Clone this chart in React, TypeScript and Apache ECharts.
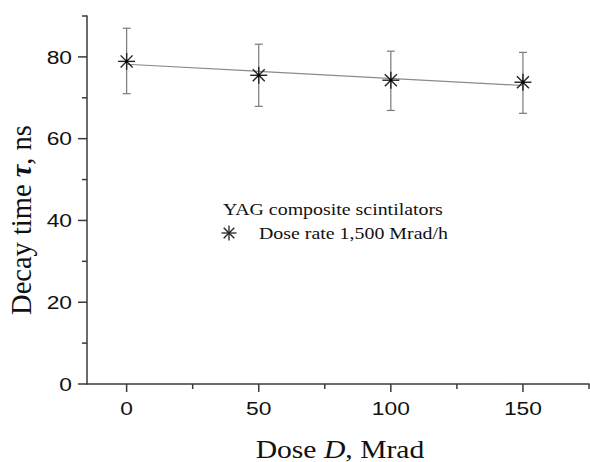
import React, { useEffect, useRef } from "react";
import * as echarts from "echarts";

const doses = [0, 50, 100, 150];
const tau = [78.9, 75.5, 74.3, 73.8];
const errLow = [71.0, 67.9, 66.9, 66.2];
const errHigh = [87.0, 83.1, 81.4, 81.1];
const fitX = [0, 150];
const fitY = [78.2, 73.0];
const xTicks = [0, 50, 100, 150];
const xMinorTicks = [25, 75, 125, 175];
const yTicks = [0, 20, 40, 60, 80];
const yMinorTicks = [10, 30, 50, 70, 90];

const SERIF = "'Liberation Serif', 'Times New Roman', serif";
const SANS = "'Liberation Sans', Arial, sans-serif";

function starShape(cx: number, cy: number, r: number, color: string, width: number) {
  const children: any[] = [];
  const d = r * Math.SQRT1_2;
  const segs = [
    [cx - r, cy, cx + r, cy],
    [cx, cy - r, cx, cy + r],
    [cx - d, cy - d, cx + d, cy + d],
    [cx - d, cy + d, cx + d, cy - d],
  ];
  for (const s of segs) {
    children.push({
      type: "line",
      shape: { x1: s[0], y1: s[1], x2: s[2], y2: s[3] },
      style: { stroke: color, lineWidth: width },
    });
  }
  return children;
}

export default function App() {
  const ref = useRef<HTMLDivElement>(null);
  useEffect(() => {
    if (!ref.current) return;
    const chart = echarts.init(ref.current, undefined, { renderer: "svg" });
    const axisColor = "#3a3a3a";
    const pointData = doses.map((d, i) => [d, tau[i], errLow[i], errHigh[i]]);
    chart.setOption({
      animation: false,
      backgroundColor: "#ffffff",
      grid: { left: 87, right: 1, top: 16, bottom: 78, containLabel: false },
      xAxis: {
        type: "value",
        min: -15,
        max: 175,
        axisLine: { onZero: false, lineStyle: { color: axisColor, width: 1.5 } },
        axisTick: { show: false },
        splitLine: { show: false },
        axisLabel: { show: false },
      },
      yAxis: {
        type: "value",
        min: 0,
        max: 90,
        axisLine: { show: true, onZero: false, lineStyle: { color: axisColor, width: 1.5 } },
        axisTick: { show: false },
        splitLine: { show: false },
        axisLabel: { show: false },
      },
      series: [
        {
          type: "line",
          data: fitX.map((x, i) => [x, fitY[i]]),
          symbol: "none",
          lineStyle: { color: "#8a8a8a", width: 1.2 },
          z: 2,
          silent: true,
        },
        {
          type: "custom",
          data: pointData,
          z: 3,
          renderItem: (params: any, api: any) => {
            const x = api.value(0);
            const c = api.coord([x, api.value(1)]);
            const lo = api.coord([x, api.value(2)]);
            const hi = api.coord([x, api.value(3)]);
            const cap = 4;
            const eb = { stroke: "#7a7a7a", lineWidth: 1.2 };
            return {
              type: "group",
              children: [
                { type: "line", shape: { x1: c[0], y1: hi[1], x2: c[0], y2: lo[1] }, style: eb },
                { type: "line", shape: { x1: c[0] - cap, y1: hi[1], x2: c[0] + cap, y2: hi[1] }, style: eb },
                { type: "line", shape: { x1: c[0] - cap, y1: lo[1], x2: c[0] + cap, y2: lo[1] }, style: eb },
                ...starShape(c[0], c[1], 8.5, "#222", 1.4),
                { type: "circle", shape: { cx: c[0], cy: c[1], r: 1.6 }, style: { fill: "#000" } },
              ],
            };
          },
        },
        {
          type: "custom",
          data: xTicks.map((t) => [t]),
          z: 4,
          silent: true,
          renderItem: (params: any, api: any) => {
            const p = api.coord([api.value(0), 0]);
            return {
              type: "group",
              children: [
                { type: "line", shape: { x1: p[0], y1: p[1], x2: p[0], y2: p[1] + 8 }, style: { stroke: axisColor, lineWidth: 1.5 } },
                {
                  type: "text",
                  x: p[0],
                  y: p[1] + 24,
                  style: {
                    text: String(api.value(0)),
                    font: `19px ${SANS}`,
                    fill: "#111",
                    align: "center",
                    verticalAlign: "middle",
                  },
                  scaleX: 1.2,
                },
              ],
            };
          },
        },
        {
          type: "custom",
          data: xMinorTicks.map((t) => [t]),
          z: 4,
          silent: true,
          renderItem: (params: any, api: any) => {
            const p = api.coord([api.value(0), 0]);
            return { type: "line", shape: { x1: p[0], y1: p[1], x2: p[0], y2: p[1] + 5 }, style: { stroke: axisColor, lineWidth: 1.5 } };
          },
        },
        {
          type: "custom",
          data: yTicks.map((t) => [t]),
          z: 4,
          silent: true,
          renderItem: (params: any, api: any) => {
            const p = api.coord([-15, api.value(0)]);
            return {
              type: "group",
              children: [
                { type: "line", shape: { x1: p[0] - 9, y1: p[1], x2: p[0], y2: p[1] }, style: { stroke: axisColor, lineWidth: 1.5 } },
                {
                  type: "text",
                  x: p[0] - 15,
                  y: p[1],
                  style: {
                    text: String(api.value(0)),
                    font: `19px ${SANS}`,
                    fill: "#111",
                    align: "right",
                    verticalAlign: "middle",
                  },
                  scaleX: 1.2,
                },
              ],
            };
          },
        },
        {
          type: "custom",
          data: yMinorTicks.map((t) => [t]),
          z: 4,
          silent: true,
          renderItem: (params: any, api: any) => {
            const p = api.coord([-15, api.value(0)]);
            return { type: "line", shape: { x1: p[0] - 5, y1: p[1], x2: p[0], y2: p[1] }, style: { stroke: axisColor, lineWidth: 1.5 } };
          },
        },
      ],
      graphic: [
        {
          type: "text",
          x: 340,
          y: 449,
          scaleX: 1.14,
          style: {
            text: "Dose {i|D}, Mrad",
            font: `26px ${SERIF}`,
            fill: "#111",
            align: "center",
            verticalAlign: "middle",
            rich: { i: { fontFamily: SERIF, fontSize: 26, fontStyle: "italic", fill: "#111" } },
          },
        },
        {
          type: "text",
          x: 21,
          y: 220,
          rotation: Math.PI / 2,
          style: {
            text: "Decay time {t|τ}, ns",
            font: `28.5px ${SERIF}`,
            fill: "#111",
            align: "center",
            verticalAlign: "middle",
            rich: { t: { fontFamily: SERIF, fontSize: 28.5, fontStyle: "italic", fontWeight: "bold", fill: "#111" } },
          },
        },
        {
          type: "text",
          x: 223,
          y: 209,
          scaleX: 1.17,
          style: { text: "YAG composite scintilators", font: `17px ${SERIF}`, fill: "#111", verticalAlign: "middle" },
        },
        {
          type: "group",
          x: 221.5,
          y: 225.5,
          children: starShape(7.5, 7.5, 7.5, "#222", 1.3),
        },
        {
          type: "text",
          x: 259,
          y: 233,
          scaleX: 1.17,
          style: { text: "Dose rate 1,500 Mrad/h", font: `17px ${SERIF}`, fill: "#111", verticalAlign: "middle" },
        },
      ],
    });
    return () => chart.dispose();
  }, []);
  return <div ref={ref} style={{ position: "fixed", left: 0, top: 0, width: 590, height: 462 }} />;
}
